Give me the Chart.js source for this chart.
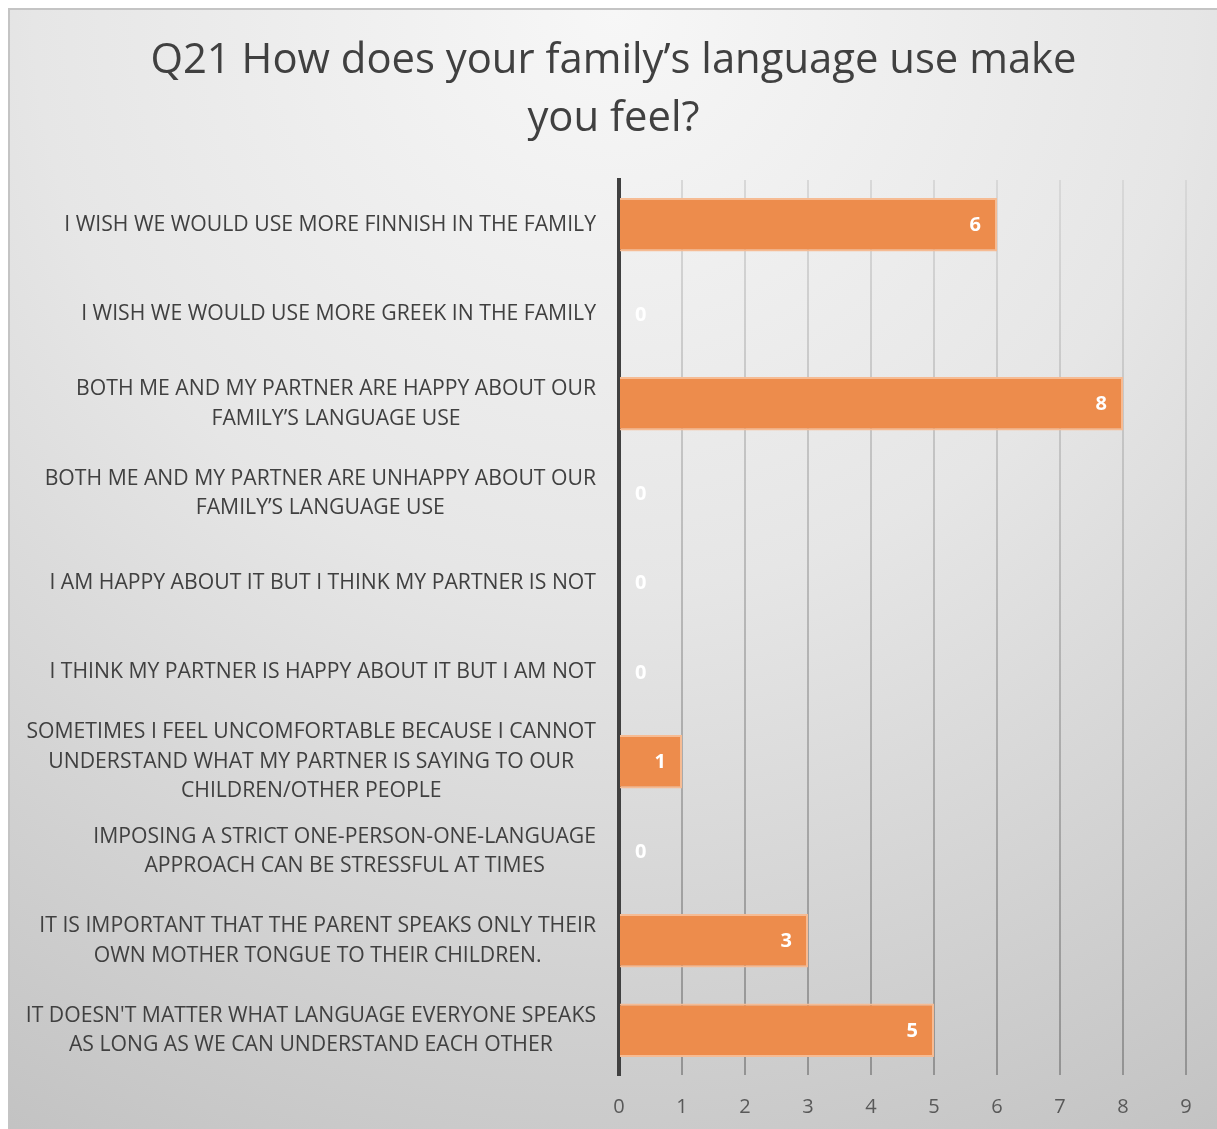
<!DOCTYPE html>
<html>
<head>
<meta charset="utf-8">
<script src="https://cdn.jsdelivr.net/npm/chart.js@4.4.1/dist/chart.umd.min.js"></script>
<style>
  html, body { margin: 0; padding: 0; background: #ffffff; }
  #frame {
    position: absolute; left: 8px; top: 8px;
    border-top: 2px solid #c4c4c4; border-left: 2px solid #c4c4c4;
  }
  #frame canvas { display: block; }
</style>
</head>
<body>
<div id="frame"><canvas id="c" width="1207" height="1119"></canvas></div>
<script>
// Survey question and answers
const titleLines = ['Q21 How does your family\u2019s language use make', 'you feel?'];

const categories = [
  ['I WISH WE WOULD USE MORE FINNISH IN THE FAMILY'],
  ['I WISH WE WOULD USE MORE GREEK IN THE FAMILY'],
  ['BOTH ME AND MY PARTNER ARE HAPPY ABOUT OUR', 'FAMILY\u2019S LANGUAGE USE'],
  ['BOTH ME AND MY PARTNER ARE UNHAPPY ABOUT OUR', 'FAMILY\u2019S LANGUAGE USE'],
  ['I AM HAPPY ABOUT IT BUT I THINK MY PARTNER IS NOT'],
  ['I THINK MY PARTNER IS HAPPY ABOUT IT BUT I AM NOT'],
  ['SOMETIMES I FEEL UNCOMFORTABLE BECAUSE I CANNOT', 'UNDERSTAND WHAT MY PARTNER IS SAYING TO OUR', 'CHILDREN/OTHER PEOPLE'],
  ['IMPOSING A STRICT ONE-PERSON-ONE-LANGUAGE', 'APPROACH CAN BE STRESSFUL AT TIMES'],
  ['IT IS IMPORTANT THAT THE PARENT SPEAKS ONLY THEIR', 'OWN MOTHER TONGUE TO THEIR CHILDREN.'],
  ["IT DOESN'T MATTER WHAT LANGUAGE EVERYONE SPEAKS", 'AS LONG AS WE CAN UNDERSTAND EACH OTHER']
];

const responses = [6, 0, 8, 0, 0, 0, 1, 0, 3, 5];

const axisMin = 0;
const axisMax = 9;
const axisStep = 1;

const FONT = '"Open Sans", "Noto Sans", sans-serif';
const TEXT_DARK = '#404040';

// Soft radial backdrop, bright at the top centre and greyer towards the corners
const backdrop = {
  id: 'backdrop',
  beforeDraw(chart) {
    const { ctx, width, height } = chart;
    ctx.save();
    const g = ctx.createRadialGradient(width * 0.5, 0, 0, width * 0.5, 0, height * 1.15);
    g.addColorStop(0, '#f7f7f7');
    g.addColorStop(0.45, '#e6e6e6');
    g.addColorStop(1, '#c2c2c2');
    ctx.fillStyle = g;
    ctx.fillRect(0, 0, width, height);
    ctx.restore();
  }
};

// Two-line heading centred across the whole canvas
const heading = {
  id: 'heading',
  afterDraw(chart) {
    const { ctx, width } = chart;
    ctx.save();
    ctx.font = '41.8px ' + FONT;
    ctx.fillStyle = TEXT_DARK;
    ctx.textAlign = 'center';
    ctx.textBaseline = 'middle';
    titleLines.forEach((t, k) => ctx.fillText(t, width / 2, 51 + k * 58));
    ctx.restore();
  }
};

// Category labels: block right-aligned to the axis, lines centred within the block
const categoryLabels = {
  id: 'categoryLabels',
  afterDraw(chart) {
    const { ctx } = chart;
    const y = chart.scales.y;
    const rightEdge = chart.chartArea.left - 23;
    const lineGap = 29.5;
    ctx.save();
    ctx.font = '21.2px ' + FONT;
    ctx.fillStyle = TEXT_DARK;
    ctx.textAlign = 'center';
    ctx.textBaseline = 'middle';
    categories.forEach((lines, i) => {
      const cy = y.getPixelForTick(i);
      const w = Math.max(...lines.map(l => ctx.measureText(l).width));
      const cx = rightEdge - w / 2;
      const start = cy - (lines.length - 1) * lineGap / 2;
      lines.forEach((l, k) => ctx.fillText(l, cx, start + k * lineGap));
    });
    ctx.restore();
  }
};

// Value labels inside the bar ends
const valueLabels = {
  id: 'valueLabels',
  afterDatasetsDraw(chart) {
    const { ctx } = chart;
    const meta = chart.getDatasetMeta(0);
    ctx.save();
    ctx.font = 'bold 20px ' + FONT;
    ctx.fillStyle = '#ffffff';
    ctx.textBaseline = 'middle';
    meta.data.forEach((bar, i) => {
      const v = responses[i];
      if (v > 0) {
        ctx.textAlign = 'right';
        ctx.fillText(String(v), bar.x - 16, bar.y + 1);
      } else {
        ctx.textAlign = 'left';
        ctx.fillText(String(v), bar.base + 16, bar.y + 1);
      }
    });
    ctx.restore();
  }
};

new Chart(document.getElementById('c'), {
  type: 'bar',
  data: {
    labels: categories,
    datasets: [{
      data: responses,
      backgroundColor: '#ed8c4c',
      borderColor: '#f6bb93',
      borderWidth: 2,
      borderSkipped: 'start',
      barPercentage: 0.6,
      categoryPercentage: 1.0
    }]
  },
  options: {
    indexAxis: 'y',
    responsive: false,
    animation: false,
    layout: { padding: { top: 170, right: 31, bottom: 10, left: 0 } },
    plugins: {
      legend: { display: false },
      tooltip: { enabled: false },
      title: { display: false }
    },
    scales: {
      x: {
        type: 'linear',
        position: 'bottom',
        min: axisMin,
        max: axisMax,
        ticks: {
          stepSize: axisStep,
          color: '#595959',
          font: { family: FONT, size: 20 },
          padding: 20
        },
        grid: {
          drawTicks: false,
          lineWidth: 2,
          color(ctx) {
            const area = ctx.chart.chartArea;
            if (!area) return '#bbbbbb';
            const g = ctx.chart.ctx.createLinearGradient(0, area.top, 0, area.bottom);
            g.addColorStop(0, '#d8d8d8');
            g.addColorStop(1, '#939393');
            return g;
          }
        },
        border: { display: false },
        afterFit(scale) { scale.height = 44; }
      },
      y: {
        type: 'category',
        position: 'left',
        z: 1,
        ticks: { display: false },
        grid: { display: false, drawTicks: false },
        border: { display: true, color: '#404040', width: 4 },
        afterFit(scale) { scale.width = 609; }
      }
    }
  },
  plugins: [backdrop, categoryLabels, valueLabels, heading]
});
</script>
</body>
</html>
